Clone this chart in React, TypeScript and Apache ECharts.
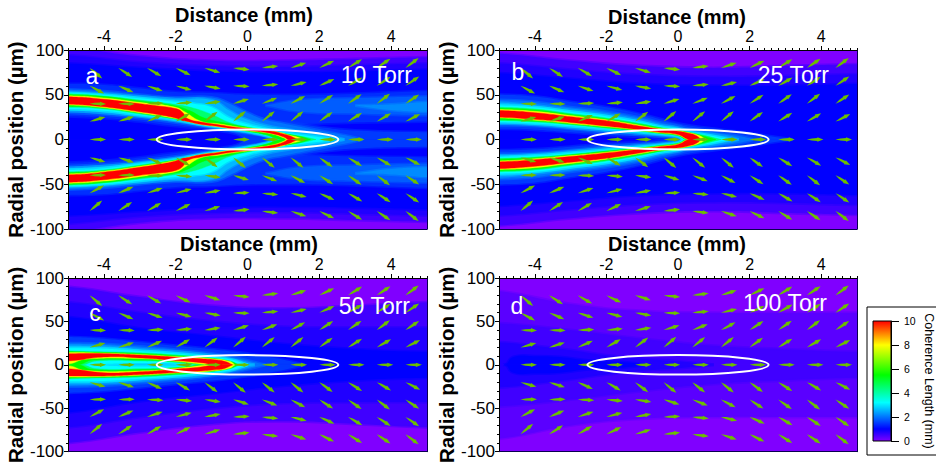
import React, { useEffect, useRef } from "react";
import * as echarts from "echarts";

// Coherence length contour ribbons, upper half of each panel (the field is mirror symmetric about r = 0).
// Each entry: [level in mm, [[distance mm, upper edge um, lower edge um], ...]]
type Ribbon = [number, number[][]];

const contoursA: Ribbon[] = [
  [0.5, [[-5, 103, 0], [-3, 93, 0], [-1, 88, 0], [1, 88, 0], [3, 90, 0], [5, 92, 0]]],
  [0.75, [[-5, 94, 0], [-3, 86, 0], [-1, 82, 0], [1, 81, 0], [3, 83, 0], [5, 85, 0]]],
  [1, [[-5, 85, 0], [-3, 80, 0], [-1, 76, 0], [1, 75, 0], [3, 76, 0], [5, 78, 0]]],
  [1.4, [[-5, 62, 26], [-4, 61, 24], [-3, 57, 20], [-2, 53, 15], [-1, 52, 12], [0, 50, 14], [2, 50, 18], [5, 54, 20]]],
  [1.5, [[-0.8, 10, 10], [-0.3, 16, 6], [0, 20, 0], [1, 20, 0], [2, 14, 0], [3, 10, 0], [5, 8, 0]]],
  [1.8, [[0.5, 38, 38], [1.5, 44, 31], [3, 46, 29], [5, 48, 27]]],
  [2, [[-5, 56, 30], [-4, 54, 28], [-3, 50, 24], [-2, 47, 19], [-1, 47, 13], [-0.5, 40, 10], [0, 30, 7], [0.5, 22, 4], [1, 18, 0], [2, 10, 0], [2.8, 4, 0], [3.2, 0, 0]]],
  [2.2, [[3, 38, 38], [4, 39, 33], [5, 42, 31]]],
  [2.6, [[-5, 53, 32], [-4, 51, 30], [-3, 48, 26], [-2, 45, 21], [-1, 44, 14], [-0.5, 32, 11], [0, 22, 8], [0.5, 16, 4], [1, 12, 0], [2, 6, 0], [2.5, 2, 0], [2.7, 0, 0]]],
  [3.2, [[-5, 52, 34], [-4, 50, 32], [-3, 46, 27], [-2, 42, 22], [-1.5, 40, 18], [-1, 36, 15], [-0.5, 24, 12], [0, 17, 8.5], [0.5, 12, 4.5], [0.8, 8.5, 0.5], [1, 8, 0], [1.5, 5, 0], [2.1, 2, 0], [2.4, 0, 0]]],
  [4.5, [[-5, 51, 36], [-4, 48.5, 34], [-3, 44, 28.5], [-2, 39, 22.5], [-1.5, 35, 19], [-1, 28, 16], [-0.5, 19, 12.7], [0, 14, 9], [0.5, 10.5, 5], [0.9, 7.5, 0], [1.5, 3.5, 0], [1.9, 0, 0]]],
  [5.5, [[-5, 50, 37], [-4, 48, 35], [-3, 43, 29.5], [-2, 37.5, 23], [-1.6, 32, 20], [-1.2, 24, 17], [-0.5, 17.5, 13], [0, 13.5, 9.5], [0.5, 10, 5.5], [0.95, 7, 0], [1.5, 3, 0], [1.75, 0, 0]]],
  [8, [[-5, 49, 38.5], [-4, 46.5, 35.5], [-3, 41.5, 30], [-2, 36, 23.5], [-1.75, 31, 21], [-1.3, 20.5, 16.8], [-0.8, 17.5, 14], [-0.3, 14.3, 11], [0.2, 12, 9], [0.7, 9.5, 6], [1, 7, 2], [1.1, 5.5, 0], [1.45, 2, 0], [1.55, 0, 0]]],
  [10, [[-5, 47.8, 39.5], [-4, 45, 36.5], [-3, 40, 31], [-2.5, 37.5, 28], [-2, 34.5, 24], [-1.8, 30, 21], [-1.7, 24, 20.5], [-1.3, 19.5, 17], [-0.8, 16.5, 14.5], [-0.3, 13.5, 11.5], [0.2, 11.5, 9.5], [0.7, 9, 6.5], [1, 6.2, 3], [1.15, 4.5, 0], [1.4, 0, 0]]],
];

const contoursB: Ribbon[] = [
  [0.5, [[-5, 96, 0], [-3, 88, 0], [-1, 82, 0], [1, 80, 0], [3, 82, 0], [5, 84, 0]]],
  [0.75, [[-5, 85, 0], [-3, 78, 0], [-1, 72, 0], [1, 70, 0], [3, 71, 0], [5, 73, 0]]],
  [1, [[-5, 74, 0], [-3, 68, 0], [-1, 62, 0], [1, 60, 0], [3, 60, 0], [5, 62, 0]]],
  [1.5, [[-5, 50, 12], [-4, 48, 11], [-3, 42, 8], [-2, 36, 5], [-1, 28, 3], [0, 18, 0], [1, 12, 0], [2, 7, 0], [3.2, 0, 0]]],
  [2, [[-5, 44, 16], [-4, 42, 15], [-3, 36, 12], [-2, 31, 8], [-1, 24, 5], [-0.5, 19, 3.5], [0, 15, 1.5], [0.3, 12, 0], [1, 8, 0], [1.8, 3, 0], [2.1, 0, 0]]],
  [2.6, [[-5, 41, 18], [-4, 38, 16.5], [-3, 33, 13], [-2, 28, 10], [-1, 21, 6.5], [-0.5, 16, 5], [0, 13, 2.5], [0.2, 10.5, 0], [1, 5.5, 0], [1.5, 2, 0], [1.7, 0, 0]]],
  [3.2, [[-5, 38, 19.5], [-4, 36, 18], [-3, 31, 15], [-2, 26, 11.5], [-1, 19, 8], [-0.5, 14.5, 6], [0, 11.5, 3.5], [0.15, 9.5, 0], [0.8, 5, 0], [1.2, 2, 0], [1.4, 0, 0]]],
  [4.5, [[-5, 36, 21], [-4, 34, 19.5], [-3, 29, 16.5], [-2, 24, 12.5], [-1, 17.5, 8.8], [-0.5, 13.5, 6.5], [0, 10.8, 4], [0.25, 8.5, 0], [0.7, 5, 0], [1.1, 1, 0], [1.2, 0, 0]]],
  [5.5, [[-5, 35, 22], [-4, 33, 20.5], [-3, 28, 17.2], [-2, 23, 13.2], [-1, 16.5, 9.3], [-0.5, 13, 7], [0, 10.2, 4.5], [0.25, 8.3, 0], [0.7, 4, 0], [1.05, 0, 0]]],
  [8, [[-5, 33.5, 24], [-4, 31.5, 21.5], [-3, 26.8, 18], [-2, 22, 14.2], [-1, 15.5, 9.9], [-0.5, 12, 7.5], [0, 9.8, 5], [0.28, 7.8, 0], [0.55, 5, 0], [0.8, 0, 0]]],
  [10, [[-5, 32.5, 25], [-4, 30, 22.5], [-3, 25.5, 19], [-2, 21, 15], [-1, 14.5, 10.5], [-0.5, 11.5, 8], [0, 9.3, 5.5], [0.3, 7, 0], [0.5, 4.5, 0], [0.65, 0, 0]]],
];

const contoursC: Ribbon[] = [
  [0.5, [[-5, 90, 0], [-3, 78, 0], [-1, 68, 0], [1, 65, 0], [3, 68, 0], [5, 72, 0]]],
  [0.75, [[-5, 72, 0], [-3, 60, 0], [-1, 50, 0], [1, 44, 0], [3, 43, 0], [5, 43, 0]]],
  [1, [[-5, 55, 0], [-3, 42, 0], [-1, 33, 0], [1, 24, 0], [3, 18, 0], [5, 15, 0]]],
  [1.5, [[-5, 32, 0], [-4, 30, 0], [-3, 26, 0], [-2, 22, 0], [-1, 18, 0], [0, 13, 0], [1, 6, 0], [1.6, 0, 0]]],
  [2, [[-5, 25, 0], [-4, 24, 0], [-3, 21, 0], [-2, 17.5, 0], [-1, 13, 0], [-0.3, 8, 0], [0.5, 0, 0]]],
  [2.6, [[-5, 22, 0], [-4, 21, 0], [-3, 18, 0], [-2, 15, 0], [-1, 11, 0], [-0.4, 6, 0], [0.2, 0, 0]]],
  [3.2, [[-5, 19, 0], [-4, 18.5, 1], [-3, 16, 2], [-2, 13, 1.5], [-1.5, 11, 0], [-0.5, 6.5, 0], [0, 0, 0]]],
  [4.5, [[-5, 16, 0], [-4.6, 15.5, 0], [-4.2, 15.2, 4.5], [-3, 14, 4.5], [-2, 11.5, 3], [-1.3, 9, 0], [-0.6, 5, 0], [-0.2, 0, 0]]],
  [5.5, [[-5, 15.5, 0], [-4.7, 15, 0], [-4.3, 14.7, 5.5], [-3, 13, 5.5], [-2, 10.6, 3.5], [-1.15, 8, 0], [-0.5, 4.5, 0], [-0.25, 0, 0]]],
  [8, [[-5, 14, 1], [-4.5, 14, 6.5], [-3, 12, 7], [-2, 9.5, 4.2], [-1, 7, 0], [-0.5, 4, 0], [-0.35, 0, 0]]],
  [10, [[-5, 12.8, 4.5], [-4, 12.8, 9], [-3, 11.2, 8], [-2, 8.8, 5], [-1.3, 7, 2.5], [-0.85, 5.5, 0], [-0.6, 3.5, 0], [-0.42, 0, 0]]],
];

const contoursD: Ribbon[] = [
  [0.3, [[-5, 85, 0], [-3, 70, 0], [-1, 62, 0], [1, 60, 0], [3, 60, 0], [5, 60, 0]]],
  [0.5, [[-5, 48, 0], [-3, 40, 0], [-1, 30, 0], [1, 22, 0], [3, 18, 0], [5, 15, 0]]],
  [0.75, [[-5, 26, 0], [-4, 22, 0], [-3, 17, 0], [-2, 11, 0], [-1, 7, 0], [0, 4, 0], [1, 0, 0]]],
  [1, [[-4.8, 0, 0], [-4.6, 9, 0], [-4, 10, 0], [-3.3, 9, 0], [-2.5, 5, 0], [-1.5, 3, 0], [-0.8, 0, 0]]],
];

// Arrow field: tails sit on these grid lines, angles (degrees, + = up) read column by column.
const arrowDistances = [-4.4, -3.6, -2.8, -2, -1.2, -0.4, 0.4, 1.2, 2, 2.8, 3.6, 4.4];
const anglesAt80 = [-40, -33, -30, -26, -17, -6, 7, 18, 26, 32, 34, 37];
const anglesAt60 = [-28, -23, -18, -15, -10, -2, 5, 13, 24, 30, 33, 34];
const anglesAt40 = [-1, -1, 2, 5, 8, 17, 21, 28, 33, 35, 37, 34];
const anglesAt20 = [16, 18, 24, 30, 37, 40, 39, 39, 36, 32, 30, 27];
const anglesAt0 = [0, 0, 0, 0, 0, 0, 0, 0, 0, 0, 0, 0];
const arrowRows: [number, number[]][] = [[80, anglesAt80], [60, anglesAt60], [40, anglesAt40], [20, anglesAt20], [0, anglesAt0]];

// White ellipse: [centre distance, centre radius, half length mm, half height um]
const ellipseValues = [0, 0, 2.53, 11.2];

const xTickValues = [-4, -2, 0, 2, 4];
const panelLetters = ["a", "b", "c", "d"];
const panelPressures = ["10 Torr", "25 Torr", "50 Torr", "100 Torr"];
const panelContours = [contoursA, contoursB, contoursC, contoursD];
const colorbarStops: [number, string][] = [[0, "#8000ff"], [1, "#0000ff"], [3.2, "#00ffff"], [5.5, "#00ff00"], [8, "#ffff00"], [10, "#ff0000"]];

const grids = [
  { left: 68, top: 50, width: 359, height: 179, titleGap: 25, yGap: 38, titleShift: -7, letter: [92, 76], pressure: [412, 75] },
  { left: 499, top: 50, width: 358, height: 179, titleGap: 23, yGap: 42, titleShift: -2, letter: [518, 72], pressure: [829, 75] },
  { left: 68, top: 278, width: 359, height: 179, titleGap: 24, yGap: 38, titleShift: 3, letter: [95, 313], pressure: [410, 306] },
  { left: 499, top: 278, width: 358, height: 179, titleGap: 24, yGap: 42, titleShift: -2, letter: [517, 306], pressure: [827, 303] },
];

function hexToRgb(h: string) {
  return [1, 3, 5].map((i) => parseInt(h.slice(i, i + 2), 16));
}
function colorOf(v: number, alpha = 1) {
  for (let i = 1; i < colorbarStops.length; i++) {
    const [v0, c0] = colorbarStops[i - 1];
    const [v1, c1] = colorbarStops[i];
    if (v <= v1) {
      const t = (v - v0) / (v1 - v0);
      const a = hexToRgb(c0);
      const b = hexToRgb(c1);
      return `rgba(${a.map((x, k) => Math.round(x + (b[k] - x) * t)).join(",")},${alpha})`;
    }
  }
  return colorbarStops[colorbarStops.length - 1][1];
}

const axisLine = { show: true, onZero: false, lineStyle: { color: "#000", width: 1 } };
const frameLine = { show: true, onZero: false, lineStyle: { color: "#0a0050", width: 1 } };

function buildOption() {
  const xAxis: any[] = [];
  const yAxis: any[] = [];
  const series: any[] = [];
  const graphic: any[] = [
    { type: "rect", z: 0, shape: { x: 867, y: 307, width: 80, height: 148 }, style: { fill: "#fff", stroke: "#000", lineWidth: 1 } },
  ];

  grids.forEach((g, i) => {
    const xMain = xAxis.length;
    xAxis.push({
      type: "value", gridIndex: i, position: "top", min: -5, max: 5, z: 5,
      name: "Distance (mm)", nameLocation: "middle", nameGap: g.titleGap,
      nameTextStyle: { fontFamily: "Liberation Sans", fontWeight: "bold", fontSize: 20, color: "#000", padding: [0, 0, 0, g.titleShift] },
      axisLine,
      axisTick: { show: true, customValues: xTickValues, length: 4, lineStyle: { color: "#000" } },
      axisLabel: { show: true, customValues: xTickValues, fontFamily: "Liberation Sans", fontSize: 16, color: "#000", margin: 6 },
      splitLine: { show: false },
    });
    xAxis.push({
      type: "value", gridIndex: i, position: "top", min: -5, max: 5, interval: 0.2, z: 5,
      axisLine: { show: false, onZero: false }, axisTick: { show: true, length: 2, lineStyle: { color: "#000" } },
      axisLabel: { show: false }, splitLine: { show: false },
    });
    xAxis.push({
      type: "value", gridIndex: i, position: "bottom", min: -5, max: 5, z: 5,
      axisLine: frameLine, axisTick: { show: false },
      axisLabel: { show: false }, splitLine: { show: false },
    });
    const yMain = yAxis.length;
    yAxis.push({
      type: "value", gridIndex: i, position: "left", min: -100, max: 100, interval: 50, z: 5,
      name: "Radial position (µm)", nameLocation: "middle", nameGap: g.yGap, nameRotate: 90,
      nameTextStyle: { fontFamily: "Liberation Sans", fontWeight: "bold", fontSize: 20.5, color: "#000" },
      axisLine,
      axisTick: { show: true, length: 4, lineStyle: { color: "#000" } },
      minorTick: { show: true, splitNumber: 5, length: 2, lineStyle: { color: "#000" } },
      axisLabel: { fontFamily: "Liberation Sans", fontSize: 17, color: "#000", margin: 4 },
      splitLine: { show: false }, minorSplitLine: { show: false },
    });
    yAxis.push({
      type: "value", gridIndex: i, position: "right", min: -100, max: 100, z: 5,
      axisLine: frameLine, axisTick: { show: false },
      axisLabel: { show: false }, splitLine: { show: false },
    });

    const ribbons = panelContours[i];
    const fieldData: number[][] = [[0, -1, 1]];
    ribbons.forEach((r, k) => { fieldData.push([r[0], k, 1]); fieldData.push([r[0], k, -1]); });

    series.push({
      type: "custom", xAxisIndex: xMain, yAxisIndex: yMain, clip: true, silent: true, z: 2,
      data: fieldData,
      renderItem: (_p: any, api: any) => {
        const v = api.value(0), k = api.value(1), sign = api.value(2);
        const fill = colorOf(v);
        if (k < 0) {
          const a = api.coord([-5, 100]), b = api.coord([5, -100]);
          return { type: "rect", shape: { x: a[0], y: a[1], width: b[0] - a[0], height: b[1] - a[1] }, style: { fill } };
        }
        const pts = ribbons[k][1];
        // run open ends past the clipped plot edge so that smoothing does not round them off
        const first = pts[0], last = pts[pts.length - 1];
        const run = [
          ...(first[0] === -5 ? [[-6, first[1], first[2]]] : []),
          ...pts,
          ...(last[0] === 5 ? [[6, last[1], last[2]]] : []),
        ];
        const poly = run.map((p) => api.coord([p[0], sign * p[1]]))
          .concat(run.slice().reverse().map((p) => api.coord([p[0], sign * p[2]])));
        return {
          type: "polygon", shape: { points: poly, smooth: 0.5 },
          style: { fill, stroke: colorOf(v, 0.5), lineWidth: v < 3.5 ? 3 : 0.8 },
        };
      },
    });

    const arrowData: number[][] = [];
    arrowRows.forEach(([r, angles]) => {
      arrowDistances.forEach((x, c) => {
        arrowData.push([x, r, angles[c]]);
        if (r !== 0) arrowData.push([x, -r, -angles[c]]);
      });
    });
    series.push({
      type: "custom", xAxisIndex: xMain, yAxisIndex: yMain, clip: true, silent: true, z: 3,
      data: arrowData,
      renderItem: (_p: any, api: any) => {
        const c = api.coord([api.value(0), api.value(1)]);
        return {
          type: "polygon", x: c[0], y: c[1], rotation: (api.value(2) * Math.PI) / 180,
          shape: { points: [[0, 0], [5, -1], [10.5, -1.4], [10.5, -2.2], [16.5, 0], [10.5, 2.2], [10.5, 1.4], [5, 1]] },
          style: { fill: "#6cbe00" },
        };
      },
    });

    series.push({
      type: "custom", xAxisIndex: xMain, yAxisIndex: yMain, clip: true, silent: true, z: 4,
      data: [ellipseValues],
      renderItem: (_p: any, api: any) => {
        const c = api.coord([api.value(0), api.value(1)]);
        const e = api.coord([api.value(0) + api.value(2), api.value(1) + api.value(3)]);
        return { type: "ellipse", shape: { cx: c[0], cy: c[1], rx: e[0] - c[0], ry: c[1] - e[1] }, style: { fill: "none", stroke: "#fff", lineWidth: 2 } };
      },
    });

    graphic.push({
      type: "text", z: 100, x: g.letter[0], y: g.letter[1],
      style: { text: panelLetters[i], fill: "#fff", font: "23px 'Liberation Sans'", textAlign: "center", textVerticalAlign: "middle" },
    });
    graphic.push({
      type: "text", z: 100, x: g.pressure[0], y: g.pressure[1],
      style: { text: panelPressures[i], fill: "#fff", font: "23px 'Liberation Sans'", textAlign: "right", textVerticalAlign: "middle" },
    });
  });

  // Colour bar
  const cbX = xAxis.length;
  xAxis.push({ type: "value", gridIndex: 4, min: 0, max: 1, show: false });
  const cbY = yAxis.length;
  yAxis.push({
    type: "value", gridIndex: 4, position: "right", min: 0, max: 10, interval: 2, z: 5,
    name: "Coherence Length (mm)", nameLocation: "middle", nameGap: 31, nameRotate: -90,
    nameTextStyle: { fontFamily: "Liberation Sans", fontSize: 12.5, color: "#000" },
    axisLine, axisTick: { show: true, length: 8, lineStyle: { color: "#000" } },
    axisLabel: { fontFamily: "Liberation Sans", fontSize: 10.5, color: "#000", margin: 13 },
    splitLine: { show: false },
  });
  series.push({
    type: "custom", xAxisIndex: cbX, yAxisIndex: cbY, silent: true, z: 2, clip: false,
    data: [[0, 0, 1, 10]],
    renderItem: (_p: any, api: any) => {
      const a = api.coord([api.value(0), api.value(3)]);
      const b = api.coord([api.value(2), api.value(1)]);
      return {
        type: "rect",
        shape: { x: a[0], y: a[1], width: b[0] - a[0], height: b[1] - a[1] },
        style: {
          stroke: "#000", lineWidth: 1,
          fill: new echarts.graphic.LinearGradient(0, 1, 0, 0, colorbarStops.map(([v, color]) => ({ offset: v / 10, color }))),
        },
      };
    },
  });

  return {
    animation: false,
    backgroundColor: "#fff",
    grid: [
      ...grids.map((g) => ({ left: g.left, top: g.top, width: g.width, height: g.height })),
      { left: 873, top: 321, width: 18, height: 120 },
    ],
    xAxis, yAxis, series, graphic,
  };
}

export default function App() {
  const ref = useRef<HTMLDivElement>(null);
  useEffect(() => {
    const chart = echarts.init(ref.current as HTMLDivElement, undefined, { renderer: "svg" });
    chart.setOption(buildOption() as any);
    return () => chart.dispose();
  }, []);
  return <div ref={ref} style={{ position: "absolute", left: 0, top: 0, width: 936, height: 465 }} />;
}
